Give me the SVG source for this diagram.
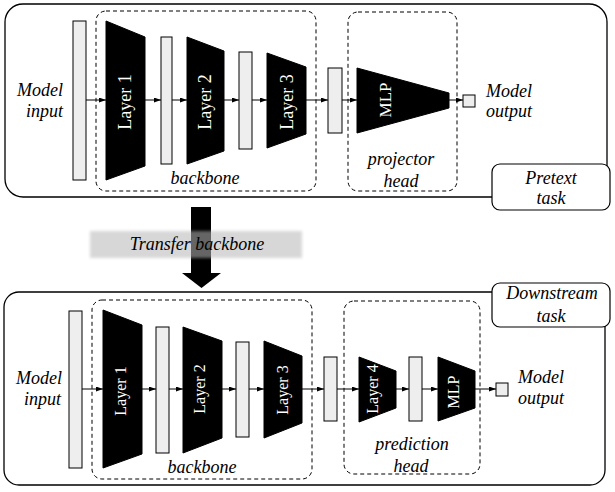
<svg xmlns="http://www.w3.org/2000/svg" width="615" height="492" viewBox="0 0 615 492">
<style>
.panel{fill:#fff;stroke:#000;stroke-width:1.3}
.tag{fill:#fff;stroke:#000;stroke-width:1.2}
.dash{fill:none;stroke:#000;stroke-width:1;stroke-dasharray:4 3}
.bar{fill:#eeeeee;stroke:#000;stroke-width:1}
.layer{fill:#000;stroke:#000;stroke-width:1}
.lbl{font-family:"Liberation Serif","Times New Roman",serif;font-style:italic;font-size:18px;fill:#000}
.ll{font-family:"Liberation Serif","Times New Roman",serif;font-size:18px;fill:#fff;text-anchor:middle}
.edge{stroke:#000;stroke-width:1;fill:none;marker-end:url(#ah)}
.mid{text-anchor:middle}
</style>
<defs>
<marker id="ah" markerUnits="userSpaceOnUse" markerWidth="8" markerHeight="6" refX="7" refY="2.5" orient="auto">
<path d="M0,0 L7,2.5 L0,5 z" fill="#000"/>
</marker>
<filter id="blur" x="-10%" y="-30%" width="120%" height="160%">
<feGaussianBlur stdDeviation="1.5"/>
</filter>
</defs>

<!-- Top panel -->
<g id="pretext-panel">
<rect class="panel" x="5" y="4" width="602" height="193" rx="18"/>
</g>
<g id="pretext-tag">
<rect class="tag" x="492" y="164" width="118" height="46" rx="8"/>
<text class="lbl mid" x="551" y="184">Pretext</text>
<text class="lbl mid" x="551" y="204">task</text>
</g>
<g id="top-backbone">
<rect class="dash" x="96" y="11" width="220" height="180" rx="10"/>
<text class="lbl mid" x="205" y="184">backbone</text>
</g>
<g id="top-projector">
<rect class="dash" x="348" y="12" width="109" height="179" rx="10"/>
<text class="lbl mid" x="401" y="165">projector</text>
<text class="lbl mid" x="401" y="187">head</text>
</g>
<g id="top-input">
<rect class="bar" x="73" y="21" width="13" height="159"/>
<text class="lbl" x="63" y="96" text-anchor="end">Model</text>
<text class="lbl" x="63" y="117" text-anchor="end">input</text>
</g>
<g id="top-layer1">
<polygon class="layer" points="106,21 145,37 145,166 106,180"/>
<text class="ll" transform="translate(125,102) rotate(-90)" y="6">Layer 1</text>
</g>
<g id="top-bar2"><rect class="bar" x="161" y="37" width="11" height="127"/></g>
<g id="top-layer2">
<polygon class="layer" points="187,37 224,51 224,151 187,164"/>
<text class="ll" transform="translate(205,102) rotate(-90)" y="6">Layer 2</text>
</g>
<g id="top-bar3"><rect class="bar" x="239" y="52" width="13" height="97"/></g>
<g id="top-layer3">
<polygon class="layer" points="267,53 306,67 306,134 267,148"/>
<text class="ll" transform="translate(287,102) rotate(-90)" y="6">Layer 3</text>
</g>
<g id="top-bar4"><rect class="bar" x="328" y="68" width="14" height="65"/></g>
<g id="top-mlp">
<polygon class="layer" points="357,68 449,93 449,108 357,133"/>
<text class="ll" style="font-size:17px" transform="translate(385,100) rotate(-90)" y="6">MLP</text>
</g>
<g id="top-output">
<rect class="bar" x="463" y="95" width="12" height="12"/>
<text class="lbl" x="486" y="97">Model</text>
<text class="lbl" x="486" y="117">output</text>
</g>

<!-- Bottom panel -->
<g id="downstream-panel">
<rect class="panel" x="4" y="292" width="601" height="193" rx="15"/>
</g>
<g id="downstream-tag">
<rect class="tag" x="492" y="283" width="118" height="44" rx="8"/>
<text class="lbl mid" x="552" y="299">Downstream</text>
<text class="lbl mid" x="551" y="322">task</text>
</g>
<g id="bot-backbone">
<rect class="dash" x="92" y="300" width="220" height="179" rx="10"/>
<text class="lbl mid" x="202" y="473">backbone</text>
</g>
<g id="bot-prediction">
<rect class="dash" x="344" y="301" width="136" height="173" rx="10"/>
<text class="lbl mid" x="412" y="450">prediction</text>
<text class="lbl mid" x="411" y="472">head</text>
</g>
<g id="bot-input">
<rect class="bar" x="69" y="311" width="13" height="157"/>
<text class="lbl" x="62" y="384" text-anchor="end">Model</text>
<text class="lbl" x="61" y="405" text-anchor="end">input</text>
</g>
<g id="bot-layer1">
<polygon class="layer" points="103,310 142,325 142,454 103,468"/>
<text class="ll" style="font-size:16px" transform="translate(120,391) rotate(-90)" y="5.5">Layer 1</text>
</g>
<g id="bot-bar2"><rect class="bar" x="156" y="327" width="13" height="126"/></g>
<g id="bot-layer2">
<polygon class="layer" points="183,327 222,341 222,438 183,453"/>
<text class="ll" style="font-size:16px" transform="translate(199,389) rotate(-90)" y="5.5">Layer 2</text>
</g>
<g id="bot-bar3"><rect class="bar" x="236" y="342" width="13" height="95"/></g>
<g id="bot-layer3">
<polygon class="layer" points="264,341 302,356 302,423 264,438"/>
<text class="ll" style="font-size:16px" transform="translate(282,390) rotate(-90)" y="5.5">Layer 3</text>
</g>
<g id="bot-bar4"><rect class="bar" x="324" y="357" width="13" height="64"/></g>
<g id="bot-layer4">
<polygon class="layer" points="359,357 396,371 396,408 359,422"/>
<text class="ll" style="font-size:16px" transform="translate(372,389) rotate(-90)" y="5.5">Layer 4</text>
</g>
<g id="bot-bar5"><rect class="bar" x="409" y="357" width="13" height="64"/></g>
<g id="bot-mlp">
<polygon class="layer" points="438,357 475,371 475,408 438,421"/>
<text class="ll" style="font-size:16px" transform="translate(453,392) rotate(-90)" y="5.5">MLP</text>
</g>
<g id="bot-output">
<rect class="bar" x="496" y="383" width="12" height="13"/>
<text class="lbl" x="518" y="383">Model</text>
<text class="lbl" x="518" y="404">output</text>
</g>

<!-- Connectors -->
<g id="connectors">
<line class="edge" x1="86" y1="100" x2="106" y2="100"/>
<line class="edge" x1="145" y1="100" x2="161" y2="100"/>
<line class="edge" x1="172" y1="100" x2="187" y2="100"/>
<line class="edge" x1="224" y1="100" x2="239" y2="100"/>
<line class="edge" x1="252" y1="100" x2="267" y2="100"/>
<line class="edge" x1="306" y1="100" x2="328" y2="100"/>
<line class="edge" x1="342" y1="100" x2="357" y2="100"/>
<line class="edge" x1="449" y1="100" x2="463" y2="100"/>

<line class="edge" x1="82" y1="389" x2="103" y2="389"/>
<line class="edge" x1="142" y1="389" x2="156" y2="389"/>
<line class="edge" x1="169" y1="389" x2="183" y2="389"/>
<line class="edge" x1="222" y1="389" x2="236" y2="389"/>
<line class="edge" x1="249" y1="389" x2="264" y2="389"/>
<line class="edge" x1="302" y1="389" x2="324" y2="389"/>
<line class="edge" x1="337" y1="389" x2="359" y2="389"/>
<line class="edge" x1="396" y1="389" x2="409" y2="389"/>
<line class="edge" x1="422" y1="389" x2="438" y2="389"/>
<line class="edge" x1="475" y1="389" x2="496" y2="389"/>

<polygon points="191,207 211,207 211,273 221,273 201.5,288 182,273 191,273" fill="#000"/>
</g>

<g id="transfer-label">
<rect x="90" y="231" width="212" height="27" fill="#b8b8b8" opacity="0.55" filter="url(#blur)"/>
<text class="lbl mid" x="197" y="250">Transfer backbone</text>
</g>
</svg>
